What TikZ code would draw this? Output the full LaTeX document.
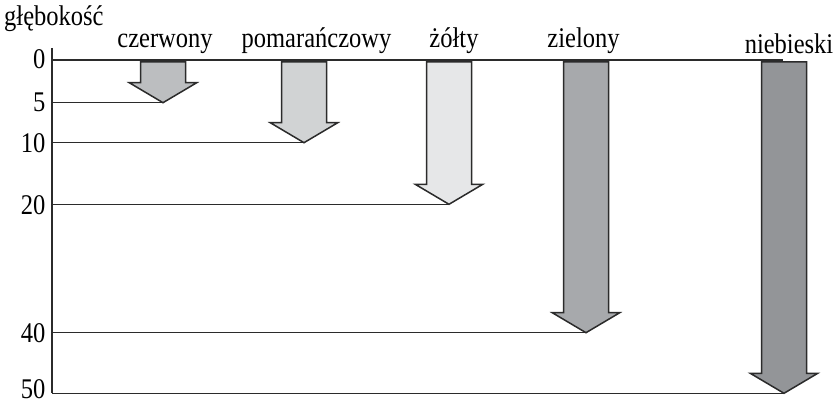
\documentclass[tikz,border=0pt]{standalone}
\usepackage{fontspec}
\setmainfont{Liberation Serif}[FakeStretch=0.86]
\definecolor{linec}{HTML}{2B2B2B}
\definecolor{cRed}{HTML}{BCBEC0}
\definecolor{cOrange}{HTML}{D1D3D4}
\definecolor{cYellow}{HTML}{E6E7E8}
\definecolor{cGreen}{HTML}{A7A9AC}
\definecolor{cBlue}{HTML}{939598}
\tikzset{
  lbl/.style={inner sep=0pt, anchor=base, font=\fontsize{28.5}{30}\selectfont},
  tick/.style={inner sep=0pt, anchor=east, font=\fontsize{28.5}{30}\selectfont},
  axisline/.style={draw=linec, line width=1.5pt},
  bararrow/.style={draw=linec, line width=1.5pt, line join=miter},
}
% #1 centre x, #2 tip y, #3 fill colour, #4 tip name
\newcommand{\colarrow}[4]{%
  \coordinate (#4) at (#1,#2);
  \path[bararrow, fill=#3]
    ($(#4)+(-22.5,-#2+62)$) -- ($(#4)+(22.5,-#2+62)$) --
    ($(#4)+(22.5,-20)$) -- ($(#4)+(33.75,-20)$) -- (#4) --
    ($(#4)+(-33.75,-20)$) -- ($(#4)+(-22.5,-20)$) -- cycle;}
\usetikzlibrary{calc}
\begin{document}
\begin{tikzpicture}[x=1pt,y=-1pt]
\useasboundingbox (0,0) rectangle (839,401);
% axis
\coordinate (atop) at (52,48);
\coordinate (a0) at (52,60);
\coordinate (a5) at (52,102.7);
\coordinate (a10) at (52,142.7);
\coordinate (a20) at (52,204.3);
\coordinate (a40) at (52,332.7);
\coordinate (a50) at (52,393.3);
\coordinate (topend) at (783,60);
\draw[axisline] (atop) -- (a50);
\draw[axisline] (a0) -- (topend);
\coordinate (t5) at (163,102.7);
\coordinate (t10) at (304,142.7);
\coordinate (t20) at (449,204.3);
\coordinate (t40) at (586,332.7);
\coordinate (t50) at (784,393.3);
\draw[axisline] (a5) -- (t5);
\draw[axisline] (a10) -- (t10);
\draw[axisline] (a20) -- (t20);
\draw[axisline] (a40) -- (t40);
\draw[axisline] (a50) -- (t50);
% arrows
\colarrow{163}{102.7}{cRed}{r}
\colarrow{304}{142.7}{cOrange}{o}
\colarrow{449}{204.3}{cYellow}{y}
\colarrow{586}{332.7}{cGreen}{g}
\colarrow{784}{393.3}{cBlue}{b}
% tick labels
\node[tick] (l0) at (45.5,59) {0};
\node[tick] (l5) at (45.5,102.7) {5};
\node[tick] (l10) at (45.5,142.7) {10};
\node[tick] (l20) at (45.5,205) {20};
\node[tick] (l40) at (45.5,333) {40};
\node[tick] (l50) at (45.5,389) {50};
% labels
\node[lbl, anchor=base west] (glb) at (4,26) {głębokość};
\node[lbl] (lr) at (165,48) {czerwony};
\node[lbl] (lo) at (316.5,48) {pomarańczowy};
\node[lbl] (ly) at (454,48) {żółty};
\node[lbl] (lg) at (583.5,48) {zielony};
\node[lbl] (lb) at (789,53.3) {niebieski};
\end{tikzpicture}
\end{document}
